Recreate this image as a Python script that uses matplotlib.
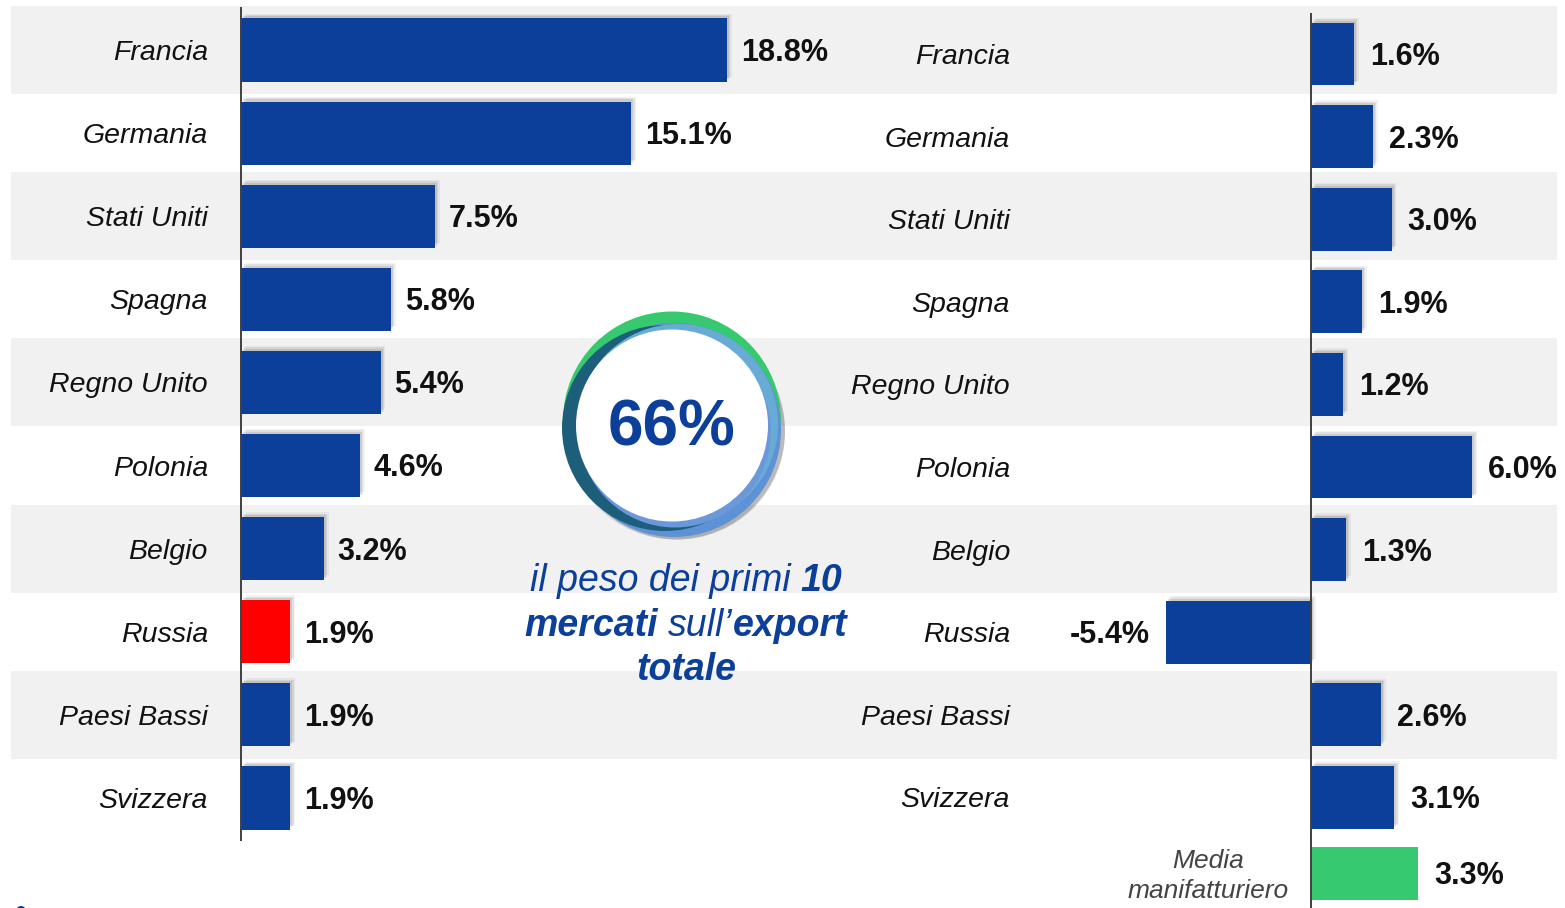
import matplotlib
matplotlib.use("Agg")
import matplotlib.pyplot as plt
from matplotlib.patches import Circle
import matplotlib.patheffects as pe

# ---------------- data ----------------
countries = ["Francia", "Germania", "Stati Uniti", "Spagna", "Regno Unito",
             "Polonia", "Belgio", "Russia", "Paesi Bassi", "Svizzera"]
share_pct = [18.8, 15.1, 7.5, 5.8, 5.4, 4.6, 3.2, 1.9, 1.9, 1.9]
growth_pct = [1.6, 2.3, 3.0, 1.9, 1.2, 6.0, 1.3, -5.4, 2.6, 3.1]
media_label = "Media\nmanifatturiero"
media_value = 3.3
highlight = "Russia"
headline = "66%"
caption = [
    [("il peso dei primi", "normal", 0), ("10", "bold", 1)],
    [("mercati", "bold", 0), ("sull\u2019", "normal", 1), ("export", "bold", 0)],
    [("totale", "bold", 0)],
]

# ---------------- style ----------------
BLUE = "#0B3F99"
RED = "#FF0000"
GREEN = "#36C96F"
STRIPE = "#F0F1F0"
AXIS = "#404040"
VAL_FS = 22
VAL_DY = -0.716 * VAL_FS / 2  # centre the cap height on the bar

plt.rcParams['font.family'] = ['Liberation Sans', 'DejaVu Sans']

W, H = 1565, 908
fig = plt.figure(figsize=(W / 100, H / 100), dpi=100)


def fig_rect(x0, y0, x1, y1):
    return [x0 / W, 1 - y1 / H, (x1 - x0) / W, (y1 - y0) / H]


shadow = [pe.SimplePatchShadow(offset=(3.5, 3.5), shadow_rgbFace='k', alpha=0.05),
          pe.SimplePatchShadow(offset=(2.5, 2.5), shadow_rgbFace='k', alpha=0.07),
          pe.SimplePatchShadow(offset=(1.5, 1.5), shadow_rgbFace='k', alpha=0.09),
          pe.Normal()]

n = len(countries)
ypos = list(range(n))

# background stripes
L_top, L_bot = 8.45, 839.5
ax_bg = fig.add_axes(fig_rect(11, L_top, 1557, L_bot), zorder=0)
ax_bg.set_xlim(0, 1)
ax_bg.set_ylim(n - 0.5, -0.5)
for i in range(0, n, 2):
    ax_bg.axhspan(i - 0.53, i + 0.53, color=STRIPE, lw=0, clip_on=False)
ax_bg.axis('off')


def value_label(ax, v, i, right=True, gap=11.5):
    ax.annotate(f"{v:.1f}%", xy=(v, i), xytext=(gap if right else -gap, VAL_DY),
                textcoords='offset points', ha='left' if right else 'right',
                va='baseline', fontsize=VAL_FS, fontweight='bold', color='#111111')


# ---------------- left panel ----------------
L_scale = 25.85
axL = fig.add_axes(fig_rect(241, L_top, 241 + 20 * L_scale, L_bot), zorder=2)
axL.patch.set_alpha(0)
axL.set_xlim(0, 20)
axL.set_ylim(n - 0.5, -0.5)
colorsL = [RED if c == highlight else BLUE for c in countries]
axL.barh(ypos, share_pct, height=0.76, color=colorsL, path_effects=shadow, zorder=2)
for s in ['top', 'right', 'bottom']:
    axL.spines[s].set_visible(False)
axL.spines['left'].set_color(AXIS)
axL.spines['left'].set_linewidth(1.4)
axL.set_xticks([])
axL.set_yticks(ypos)
axL.set_yticklabels(countries, fontsize=20.5, fontstyle='italic', color='#111111')
axL.tick_params(axis='y', length=0, pad=23.8)
for i, v in enumerate(share_pct):
    value_label(axL, v, i, True, 10)

# ---------------- right panel ----------------
R_top, R_bot = 12.7, 838.7
R_scale = 26.85
R_x0 = 1311 - 6 * R_scale
axR = fig.add_axes(fig_rect(R_x0, R_top, R_x0 + 15 * R_scale, R_bot), zorder=2)
axR.patch.set_alpha(0)
axR.set_xlim(-6, 9)
axR.set_ylim(n - 0.5, -0.5)
axR.barh(ypos, growth_pct, height=0.76, color=BLUE, path_effects=shadow, zorder=2)
axR.axvline(0, color=AXIS, lw=1.4, zorder=3)
for s in ['top', 'right', 'bottom', 'left']:
    axR.spines[s].set_visible(False)
axR.set_xticks([])
axR.set_yticks(ypos)
axR.set_yticklabels(countries, fontsize=20.5, fontstyle='italic', color='#111111')
axR.tick_params(axis='y', length=0, pad=(R_x0 - 1010) * 0.72)
for i, v in enumerate(growth_pct):
    value_label(axR, v, i, v >= 0, 11.5)

# media row
M_scale = 32.4
axM = fig.add_axes(fig_rect(1311, R_bot, 1557, 908), zorder=2)
axM.patch.set_alpha(0)
axM.set_xlim(0, 246 / M_scale)
axM.set_ylim(-0.5, 0.5)
axM.barh([0], [media_value], height=0.765, color=GREEN, zorder=2)
for s in ['top', 'right', 'bottom']:
    axM.spines[s].set_visible(False)
axM.spines['left'].set_color(AXIS)
axM.spines['left'].set_linewidth(1.4)
axM.set_xticks([])
axM.set_yticks([])
value_label(axM, media_value, 0, True, 11.5)

# ---------------- overlay ----------------
ov = fig.add_axes([0, 0, 1, 1], zorder=5)
ov.patch.set_alpha(0)
ov.set_xlim(0, W)
ov.set_ylim(H, 0)
ov.axis('off')

ov.text(1208, 876, media_label, ha='center', va='center', fontsize=19,
        fontstyle='italic', color='#444444', linespacing=1.3)

# circle badge
cx, cy = 672, 425.5
for k, a in enumerate([0.06, 0.07, 0.08, 0.09]):
    ov.add_patch(Circle((cx + 3 + k, cy + 4 + k), 110 - k, color='k', alpha=a, lw=0))
ov.add_patch(Circle((cx, cy - 5), 109, color=GREEN, lw=0))
ov.add_patch(Circle((cx + 2, cy + 4.5), 107, color="#5E92D6", lw=0))
ov.add_patch(Circle((cx - 7, cy + 2.5), 103, color="#1D5E7B", lw=0))
ov.add_patch(Circle((cx + 6, cy - 1.5), 100, color="#68ACD5", lw=0))
ov.add_patch(Circle((cx + 3, cy + 6), 96, color="#6A98DA", lw=0))
ov.add_patch(Circle((cx, cy), 96, color='white', lw=0))
ov.text(cx, cy + 3, headline, ha='center', va='center', fontsize=46,
        fontweight='bold', color=BLUE)

# small logo dot at bottom-left
ov.add_patch(Circle((21, 911), 5, color=BLUE, lw=0))

# caption (mixed weights)
renderer = fig.canvas.get_renderer()
cap_fs = 27
space_px = 0.278 * cap_fs * 100 / 72
baselines = [591, 636, 680]
cap_cx = 686
for line, yb in zip(caption, baselines):
    texts, widths = [], []
    for s, wgt, gap in line:
        t = ov.text(0, yb, s, ha='left', va='baseline', fontsize=cap_fs,
                    fontstyle='italic', fontweight=wgt, color=BLUE)
        texts.append((t, gap))
        widths.append(t.get_window_extent(renderer).width)
    total = sum(widths) + sum(g for _, g in texts) * space_px
    x = cap_cx - total / 2
    for (t, gap), w in zip(texts, widths):
        x += gap * space_px
        t.set_x(x)
        x += w

fig.savefig("out.png", dpi=100)
